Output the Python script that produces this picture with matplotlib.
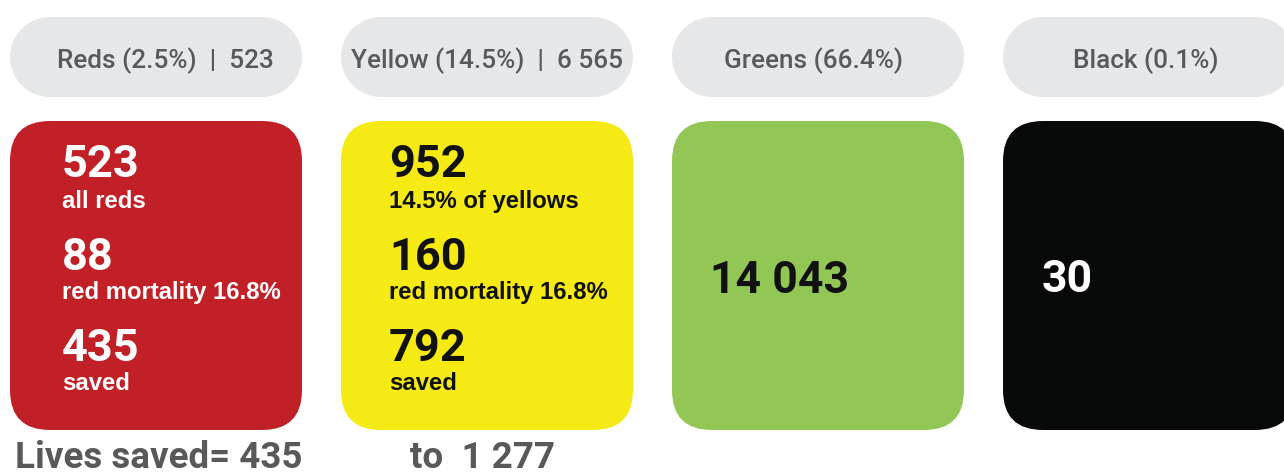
import matplotlib
matplotlib.use("Agg")
import matplotlib.pyplot as plt
from matplotlib.patches import FancyBboxPatch, Rectangle, Circle

# ---------------- data ----------------
categories = ["Reds", "Yellow", "Greens", "Black"]
shares = [2.5, 14.5, 66.4, 0.1]
pill_counts = [523, 6565, None, None]
box_colors = ["#C02026", "#F5EA14", "#92C756", "#080909"]
text_colors = ["#FFFFFF", "#111111", "#111111", "#FFFFFF"]

red_values = [523, 88, 435]
red_labels = ["all reds", "red mortality 16.8%", "saved"]
yellow_values = [952, 160, 792]
yellow_labels = ["14.5% of yellows", "red mortality 16.8%", "saved"]
green_value = 14043
black_value = 30

lives_saved_low = 435
lives_saved_high = 1277


def fmt(n):
    return f"{n:,}".replace(",", " ")


pill_labels = []
for c, s, n in zip(categories, shares, pill_counts):
    lab = f"{c} ({s}%)"
    if n is not None:
        lab += f"  |  {fmt(n)}"
    pill_labels.append(lab)

# ---------------- layout ----------------
W, H = 1284, 474
fig = plt.figure(figsize=(W / 100, H / 100), dpi=100)
ax = fig.add_axes([0, 0, 1, 1])
ax.set_xlim(0, W)
ax.set_ylim(H, 0)
ax.set_aspect("equal")
ax.axis("off")

box_left = [10, 341, 672, 1003]
box_w = 292
pill_top, pill_h = 17, 80
box_top, box_h = 121, 309
pill_text_cx = [165, 487, 813, 1146]
pill_col = "#E6E7E8"

DIN = ["Roboto", "DejaVu Sans"]
LAB = ["Liberation Sans", "DejaVu Sans"]

for i, x0 in enumerate(box_left):
    r = pill_h / 2
    ax.add_patch(Rectangle((x0 + r, pill_top), box_w - 2 * r, pill_h,
                           fc=pill_col, ec="none"))
    ax.add_patch(Circle((x0 + r, pill_top + r), r, fc=pill_col, ec="none"))
    ax.add_patch(Circle((x0 + box_w - r, pill_top + r), r, fc=pill_col, ec="none"))
    ax.text(pill_text_cx[i], 68, pill_labels[i], ha="center", va="baseline",
            fontsize=18.8, fontweight="medium", color="#58595B", family=DIN)
    box = FancyBboxPatch((x0, box_top), box_w, box_h,
                         boxstyle="round,pad=0,rounding_size=40",
                         fc=box_colors[i], ec="none")
    ax.add_patch(box)

big_base = [177, 270, 361]
lab_base = [208, 299, 390]
for x0, vals, labs, col in [(62, red_values, red_labels, text_colors[0]),
                            (389, yellow_values, yellow_labels, text_colors[1])]:
    for v, l, yb, yl in zip(vals, labs, big_base, lab_base):
        ax.text(x0, yb, fmt(v), ha="left", va="baseline", fontsize=32.5,
                fontweight="bold", color=col, family=DIN)
        ax.text(x0, yl, l, ha="left", va="baseline", fontsize=17.2,
                fontweight="bold", color=col, family=LAB)

ax.text(710, 293, fmt(green_value), ha="left", va="baseline", fontsize=32,
        fontweight="bold", color=text_colors[2], family=DIN)
ax.text(1042, 292, fmt(black_value), ha="left", va="baseline", fontsize=32,
        fontweight="bold", color=text_colors[3], family=DIN)

ax.text(15, 468, f"Lives saved= {fmt(lives_saved_low)}", ha="left", va="baseline",
        fontsize=26.5, fontweight="bold", color="#58595B", family=DIN)
ax.text(410, 468, f"to  {fmt(lives_saved_high)}", ha="left", va="baseline",
        fontsize=26.5, fontweight="bold", color="#58595B", family=DIN)

fig.savefig("out.png", dpi=100)
